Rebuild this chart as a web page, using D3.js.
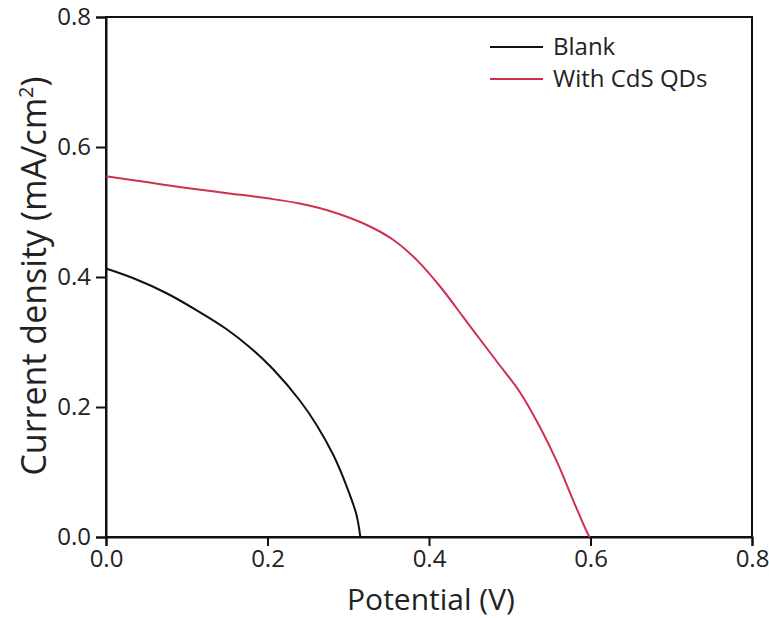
<!DOCTYPE html>
<html><head><meta charset="utf-8">
<script src="https://cdn.jsdelivr.net/npm/d3@7"></script>
<style>body{margin:0;background:#fff}svg{display:block}</style>
</head><body><svg id="c" width="769" height="618"></svg>
<script>
const seriesNames = ["Blank", "With CdS QDs"];
const seriesColors = ["#111111", "#d0304f"];
const blankV = [0, 0.034, 0.075, 0.116, 0.149, 0.178, 0.207, 0.240, 0.261, 0.282, 0.298, 0.310, 0.315];
const blankJ = [0.413, 0.398, 0.375, 0.346, 0.320, 0.292, 0.258, 0.210, 0.172, 0.125, 0.078, 0.035, 0.0];
const cdsV = [0, 0.05, 0.1, 0.15, 0.2, 0.24, 0.281, 0.323, 0.356, 0.385, 0.414, 0.442, 0.451, 0.484, 0.513, 0.537, 0.558, 0.578, 0.597, 0.599];
const cdsJ = [0.555, 0.546, 0.537, 0.529, 0.521, 0.513, 0.500, 0.480, 0.457, 0.426, 0.385, 0.339, 0.324, 0.270, 0.222, 0.170, 0.117, 0.058, 0.004, 0.0];
const xTicks = [0, 0.2, 0.4, 0.6, 0.8];
const yTicks = [0, 0.2, 0.4, 0.6, 0.8];

const svg = d3.select("#c");
const L = 106, R = 752, T = 17, B = 537;
const x = d3.scaleLinear().domain([0, 0.8]).range([L, R]);
const y = d3.scaleLinear().domain([0, 0.8]).range([B, T]);
const font = "'Open Sans', sans-serif";

svg.append("rect").attr("x", L).attr("y", T).attr("width", R - L).attr("height", B - T)
  .attr("fill", "none").attr("stroke", "#111").attr("stroke-width", 2);

const xAxis = svg.append("g").attr("transform", `translate(0,${B})`)
  .call(d3.axisBottom(x).tickValues(xTicks).tickFormat(d3.format(".1f")).tickSize(9).tickPadding(4));
const yAxis = svg.append("g").attr("transform", `translate(${L},0)`)
  .call(d3.axisLeft(y).tickValues(yTicks).tickFormat(d3.format(".1f")).tickSize(10).tickPadding(5));
[xAxis, yAxis].forEach(a => {
  a.select(".domain").attr("stroke", "#111").attr("stroke-width", 2);
  a.selectAll(".tick line").attr("stroke", "#111").attr("stroke-width", 2);
  a.selectAll(".tick text").attr("font-family", font).attr("font-size", 24).attr("fill", "#222");
});

const line = d3.line().x(d => x(d[0])).y(d => y(d[1])).curve(d3.curveCatmullRom.alpha(0.5));
const data = [d3.zip(blankV, blankJ), d3.zip(cdsV, cdsJ)];
data.forEach((pts, i) => {
  svg.append("path").datum(pts).attr("d", line).attr("fill", "none")
    .attr("stroke", seriesColors[i]).attr("stroke-width", 2);
});

seriesNames.forEach((n, i) => {
  const yy = 47 + i * 32;
  svg.append("line").attr("x1", 490).attr("x2", 543).attr("y1", yy).attr("y2", yy)
    .attr("stroke", seriesColors[i]).attr("stroke-width", 2);
  svg.append("text").attr("x", 553).attr("y", yy).attr("dy", "0.35em")
    .attr("font-family", font).attr("font-size", 24).attr("fill", "#222").text(n);
});

svg.append("text").attr("x", 431).attr("y", 610).attr("text-anchor", "middle")
  .attr("font-family", font).attr("font-size", 30).attr("fill", "#222").text("Potential (V)");
const yt = svg.append("text").attr("transform", "translate(46,276) rotate(-90)").attr("text-anchor", "middle")
  .attr("font-family", font).attr("font-size", 34).attr("fill", "#222");
yt.append("tspan").text("Current density (mA/cm");
yt.append("tspan").attr("font-size", 20).attr("dy", -13).text("2");
yt.append("tspan").attr("dy", 13).text(")");
</script></body></html>
